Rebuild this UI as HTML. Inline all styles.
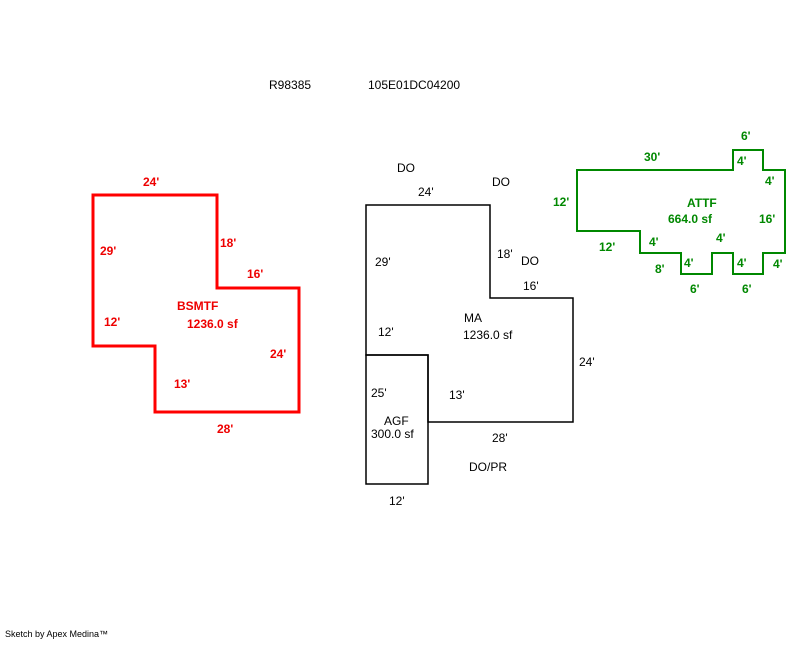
<!DOCTYPE html>
<html><head><style>
body{margin:0;background:#fff;}
svg text{font-family:"Liberation Sans",sans-serif;font-size:12px;}
.r{fill:#e00;font-weight:bold}
.g{fill:#080;font-weight:bold}
.k{fill:#000}
</style></head><body>
<svg width="800" height="640" xmlns="http://www.w3.org/2000/svg">
<text class="k" x="269" y="89">R98385</text>
<text class="k" x="368" y="89">105E01DC04200</text>

<polygon points="93,195 217,195 217,288 299,288 299,412 155,412 155,346 93,346" fill="none" stroke="#f00" stroke-width="3"/>
<text class="r" x="143" y="186">24'</text>
<text class="r" x="100" y="255">29'</text>
<text class="r" x="220" y="247">18'</text>
<text class="r" x="247" y="278">16'</text>
<text class="r" x="177" y="310">BSMTF</text>
<text class="r" x="187" y="328">1236.0 sf</text>
<text class="r" x="104" y="326">12'</text>
<text class="r" x="270" y="358">24'</text>
<text class="r" x="174" y="388">13'</text>
<text class="r" x="217" y="433">28'</text>

<polygon points="366,205 490,205 490,298 573,298 573,422 428,422 428,355 366,355" fill="none" stroke="#000" stroke-width="1.5"/>
<rect x="366" y="355" width="62" height="129" fill="none" stroke="#000" stroke-width="1.5"/>
<text class="k" x="397" y="172">DO</text>
<text class="k" x="492" y="186">DO</text>
<text class="k" x="418" y="196">24'</text>
<text class="k" x="375" y="266">29'</text>
<text class="k" x="497" y="258">18'</text>
<text class="k" x="521" y="265">DO</text>
<text class="k" x="523" y="290">16'</text>
<text class="k" x="464" y="322">MA</text>
<text class="k" x="463" y="339">1236.0 sf</text>
<text class="k" x="378" y="336">12'</text>
<text class="k" x="579" y="366">24'</text>
<text class="k" x="371" y="397">25'</text>
<text class="k" x="449" y="399">13'</text>
<text class="k" x="384" y="425">AGF</text>
<text class="k" x="371" y="438">300.0 sf</text>
<text class="k" x="492" y="442">28'</text>
<text class="k" x="469" y="471">DO/PR</text>
<text class="k" x="389" y="505">12'</text>

<polygon points="577,170 733,170 733,150 763,150 763,170 785,170 785,253 763,253 763,274 733,274 733,253 712,253 712,274 681,274 681,253 640,253 640,231 577,231" fill="none" stroke="#080" stroke-width="2"/>
<text class="g" x="741" y="140">6'</text>
<text class="g" x="644" y="161">30'</text>
<text class="g" x="737" y="165">4'</text>
<text class="g" x="765" y="185">4'</text>
<text class="g" x="553" y="206">12'</text>
<text class="g" x="687" y="207">ATTF</text>
<text class="g" x="668" y="223">664.0 sf</text>
<text class="g" x="759" y="223">16'</text>
<text class="g" x="716" y="242">4'</text>
<text class="g" x="649" y="246">4'</text>
<text class="g" x="599" y="251">12'</text>
<text class="g" x="655" y="273">8'</text>
<text class="g" x="684" y="267">4'</text>
<text class="g" x="737" y="267">4'</text>
<text class="g" x="773" y="268">4'</text>
<text class="g" x="690" y="293">6'</text>
<text class="g" x="742" y="293">6'</text>

<text x="5" y="637" style="font-size:9px" class="k">Sketch by Apex Medina™</text>
</svg>
</body></html>
